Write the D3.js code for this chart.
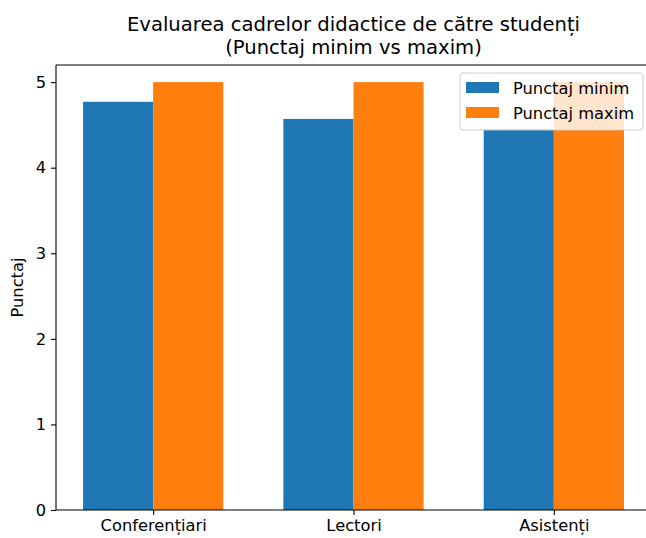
<!DOCTYPE html>
<html lang="ro">
  <head>
    <meta charset="utf-8">
    <title>Evaluarea cadrelor didactice</title>
    <script src="https://d3js.org/d3.v7.min.js"></script>
    <style>
      body { margin: 0; background: #fff; }
      text { font-family: "DejaVu Sans", sans-serif; fill: #000; }
    </style>
  </head>
  <body>
    <div id="chart"></div>
    <script>
      // data
      var categories = ["Conferențiari", "Lectori", "Asistenți"];
      var series = ["Punctaj minim", "Punctaj maxim"];
      var minScores = [4.77, 4.57, 4.45];
      var maxScores = [5, 5, 5];
      var yTicks = [0, 1, 2, 3, 4, 5];
      var colours = ["#1f77b4", "#ff7f0e"];

      var W = 646, H = 538;
      var margin = {top: 65, right: -5, bottom: 28, left: 56};
      var width = W - margin.left - margin.right,
          height = H - margin.top - margin.bottom;
      var tickFont = "16.3px", titleFont = "19.6px";

      var svg = d3.select("#chart").append("svg")
          .attr("width", W).attr("height", H);

      var g = svg.append("g")
          .attr("transform", "translate(" + margin.left + "," + margin.top + ")");

      // numeric x like matplotlib: group i at i, bars width 0.35
      var barW = 0.35;
      var x = d3.scaleLinear().domain([-0.485, 2.485]).range([0, width]);
      var y = d3.scaleLinear().domain([0, 5.2]).range([height, 0]);

      var rows = categories.map(function(c, i) {
        return {cat: c, i: i, vals: [minScores[i], maxScores[i]]};
      });

      rows.forEach(function(r) {
        r.vals.forEach(function(v, s) {
          var x0 = s === 0 ? r.i - barW : r.i;
          g.append("rect")
            .attr("x", x(x0))
            .attr("y", y(v))
            .attr("width", x(x0 + barW) - x(x0))
            .attr("height", y(0) - y(v))
            .attr("fill", colours[s]);
        });
      });

      // axes
      var yAxis = g.append("g")
        .call(d3.axisLeft(y).tickValues(yTicks).tickSize(5).tickPadding(5).tickFormat(d3.format("d")));
      var xAxis = g.append("g")
        .attr("transform", "translate(0," + height + ")")
        .call(d3.axisBottom(x).tickValues(d3.range(categories.length))
          .tickSize(5).tickPadding(4).tickFormat(function(d) { return categories[d]; }));
      [xAxis, yAxis].forEach(function(a) {
        a.selectAll("text").style("font-size", tickFont).style("font-family", "DejaVu Sans, sans-serif").attr("fill", "#000");
        a.selectAll("line").attr("stroke", "#000").attr("stroke-width", 1.1);
        a.select(".domain").remove();
      });

      // spines (left, bottom, top; right one falls off the image)
      g.append("line").attr("x1", 0).attr("x2", 0).attr("y1", 0).attr("y2", height)
        .attr("stroke", "#000").attr("stroke-width", 1.1);
      g.append("line").attr("x1", 0).attr("x2", width).attr("y1", height).attr("y2", height)
        .attr("stroke", "#000").attr("stroke-width", 1.1);
      g.append("line").attr("x1", 0).attr("x2", width).attr("y1", 0).attr("y2", 0)
        .attr("stroke", "#000").attr("stroke-width", 1.1);

      // y label
      svg.append("text")
        .attr("transform", "translate(23," + (margin.top + height / 2) + ") rotate(-90)")
        .attr("text-anchor", "middle")
        .style("font-size", tickFont)
        .text("Punctaj");

      // title
      var cx = margin.left + width / 2;
      svg.append("text").attr("x", cx).attr("y", 31).attr("text-anchor", "middle")
        .style("font-size", titleFont).text("Evaluarea cadrelor didactice de către studenți");
      svg.append("text").attr("x", cx).attr("y", 54).attr("text-anchor", "middle")
        .style("font-size", titleFont).text("(Punctaj minim vs maxim)");

      // legend
      var leg = svg.append("g").attr("transform", "translate(460,73)");
      leg.append("rect")
        .attr("width", 183).attr("height", 57).attr("rx", 3)
        .attr("fill", "#fff").attr("fill-opacity", 0.8)
        .attr("stroke", "#ccc").attr("stroke-width", 1);
      series.forEach(function(s, i) {
        leg.append("rect")
          .attr("x", 6).attr("y", 9 + i * 25).attr("width", 33).attr("height", 11)
          .attr("fill", colours[i]);
        leg.append("text")
          .attr("x", 53).attr("y", 21 + i * 25)
          .style("font-size", tickFont)
          .text(s);
      });
    </script>
  </body>
</html>
